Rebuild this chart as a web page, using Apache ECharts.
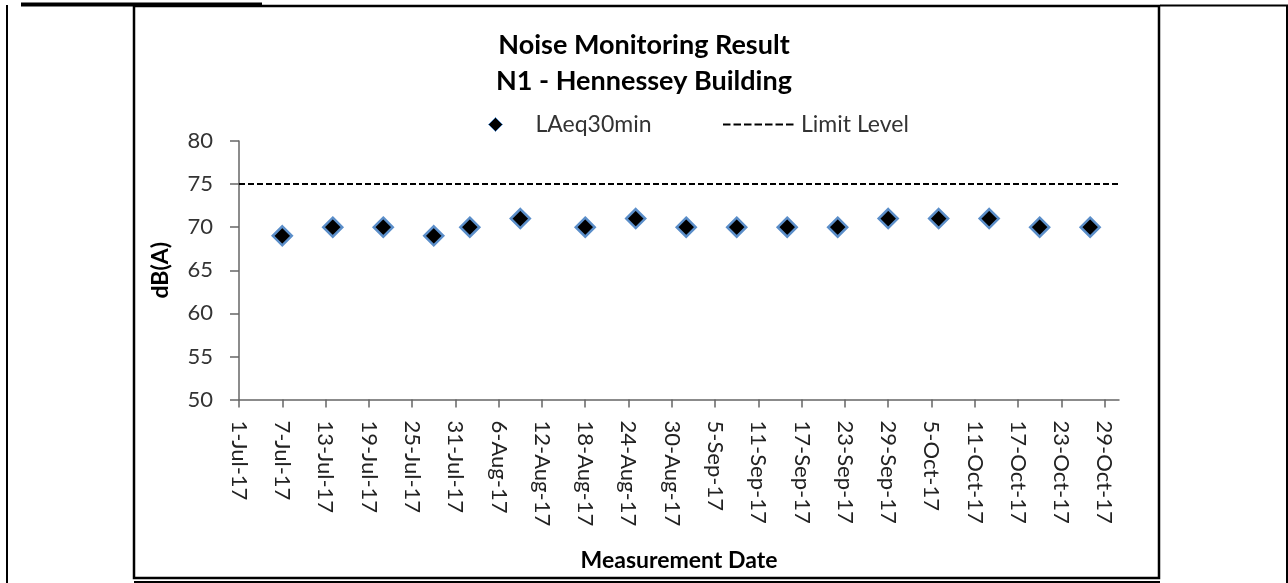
<!DOCTYPE html>
<html>
<head>
<meta charset="utf-8">
<script src="https://cdn.jsdelivr.net/npm/echarts@6/dist/echarts.min.js"></script>
<style>
  html, body { margin: 0; padding: 0; background: #ffffff; }
  #chart { width: 1288px; height: 583px; }
</style>
</head>
<body>
<div id="chart"></div>
<script>
// ---- data ----
const titleLines = ['Noise Monitoring Result', 'N1 - Hennessey Building'];
const seriesName = 'LAeq30min';
const limitName = 'Limit Level';
const measureDates = ['2017-07-07','2017-07-14','2017-07-21','2017-07-28','2017-08-02','2017-08-09','2017-08-18','2017-08-25','2017-09-01','2017-09-08','2017-09-15','2017-09-22','2017-09-29','2017-10-06','2017-10-13','2017-10-20','2017-10-27'];
const laeqValues = [69,70,70,69,70,71,70,71,70,70,70,70,71,71,71,70,70];
const limitLevel = 75;
const xRange = ['2017-07-01', '2017-10-31'];
const xTickDates = ['2017-07-01','2017-07-07','2017-07-13','2017-07-19','2017-07-25','2017-07-31','2017-08-06','2017-08-12','2017-08-18','2017-08-24','2017-08-30','2017-09-05','2017-09-11','2017-09-17','2017-09-23','2017-09-29','2017-10-05','2017-10-11','2017-10-17','2017-10-23','2017-10-29'];
const yRange = [50, 80];
const yStep = 5;
const xAxisTitle = 'Measurement Date';
const yAxisTitle = 'dB(A)';
const monthNames = ['Jan','Feb','Mar','Apr','May','Jun','Jul','Aug','Sep','Oct','Nov','Dec'];

// ---- helpers ----
function ts(s) { const p = s.split('-'); return Date.UTC(+p[0], +p[1] - 1, +p[2]); }
function fmt(v) {
  const d = new Date(v);
  return d.getUTCDate() + '-' + monthNames[d.getUTCMonth()] + '-' + String(d.getUTCFullYear()).slice(2);
}

const FONT = 'Lato, "Open Sans", sans-serif';
const chart = echarts.init(document.getElementById('chart'), null, { renderer: 'canvas' });
const tickTs = xTickDates.map(ts);

const option = {
  backgroundColor: '#ffffff',
  animation: false,
  title: {
    text: titleLines.join('\n'),
    left: 'center',
    top: 27,
    padding: [0, 0, 0, 12],
    textStyle: { fontFamily: FONT, fontWeight: 'bold', fontSize: 27, lineHeight: 36, color: '#000' }
  },
  legend: [
    {
      data: [{ name: seriesName }],
      left: 483, top: 108,
      itemWidth: 14, itemHeight: 14,
      selectedMode: false,
      itemStyle: { borderWidth: 1, opacity: 1 },
      textStyle: { fontFamily: FONT, fontSize: 23, color: '#333', padding: [0, 0, 0, 28] }
    },
    {
      data: [{ name: limitName, itemStyle: { opacity: 0 } }],
      left: 717, top: 108,
      itemWidth: 73, itemHeight: 14,
      selectedMode: false,
      lineStyle: { type: [7.5, 3], width: 2, color: '#000' },
      textStyle: { fontFamily: FONT, fontSize: 23, color: '#333' }
    }
  ],
  grid: { left: 239, right: 169, top: 141, bottom: 183.5, containLabel: false },
  xAxis: {
    type: 'value',
    min: ts(xRange[0]),
    max: ts(xRange[1]),
    splitLine: { show: false },
    axisLine: { onZero: false, lineStyle: { color: '#666', width: 1.5 } },
    axisTick: { show: true, length: 8, customValues: tickTs, lineStyle: { color: '#666', width: 1.5 } },
    axisLabel: {
      customValues: tickTs,
      formatter: fmt,
      rotate: -90,
      margin: 21,
      fontFamily: FONT, fontSize: 22, color: '#222'
    },
    name: xAxisTitle,
    nameLocation: 'middle',
    nameGap: 150,
    nameTextStyle: { fontFamily: FONT, fontWeight: 'bold', fontSize: 23, color: '#000' }
  },
  yAxis: {
    type: 'value',
    min: yRange[0], max: yRange[1], interval: yStep,
    splitLine: { show: false },
    axisLine: { show: true, lineStyle: { color: '#666', width: 1.5 } },
    axisTick: { show: true, length: 9, lineStyle: { color: '#666', width: 1.5 } },
    axisLabel: { margin: 26, fontFamily: FONT, fontSize: 22, color: '#333' },
    name: yAxisTitle,
    nameLocation: 'middle',
    nameGap: 67,
    nameTextStyle: { fontFamily: FONT, fontWeight: 'bold', fontSize: 23, color: '#000' }
  },
  series: [
    {
      name: seriesName,
      type: 'scatter',
      symbol: 'diamond',
      symbolSize: 19,
      itemStyle: { color: '#000', borderColor: '#5b8ec9', borderWidth: 2.5, opacity: 1 },
      data: measureDates.map((d, i) => [ts(d), laeqValues[i]]),
      z: 3
    },
    {
      name: limitName,
      type: 'line',
      symbol: 'none',
      lineStyle: { color: '#000', width: 2, type: [6, 3] },
      itemStyle: { color: '#000' },
      data: [[ts(xRange[0]), limitLevel], [ts(xRange[1]), limitLevel]],
      z: 2
    }
  ],
  graphic: [
    { type: 'line', shape: { x1: 21, y1: 4.5, x2: 262, y2: 4.5 }, style: { stroke: '#000', lineWidth: 4 }, silent: true },
    { type: 'line', shape: { x1: 7, y1: 5, x2: 7, y2: 583 }, style: { stroke: '#000', lineWidth: 2 }, silent: true },
    { type: 'line', shape: { x1: 1287, y1: 5, x2: 1287, y2: 583 }, style: { stroke: '#000', lineWidth: 2 }, silent: true },
    { type: 'line', shape: { x1: 1160, y1: 5.5, x2: 1288, y2: 5.5 }, style: { stroke: '#000', lineWidth: 2 }, silent: true },
    { type: 'rect', shape: { x: 134, y: 6, width: 1025, height: 572 }, style: { fill: 'none', stroke: '#000', lineWidth: 2.5 }, silent: true },
    { type: 'line', shape: { x1: 134, y1: 582, x2: 1160, y2: 582 }, style: { stroke: '#000', lineWidth: 2 }, silent: true }
  ]
};
chart.setOption(option);
</script>
</body>
</html>
